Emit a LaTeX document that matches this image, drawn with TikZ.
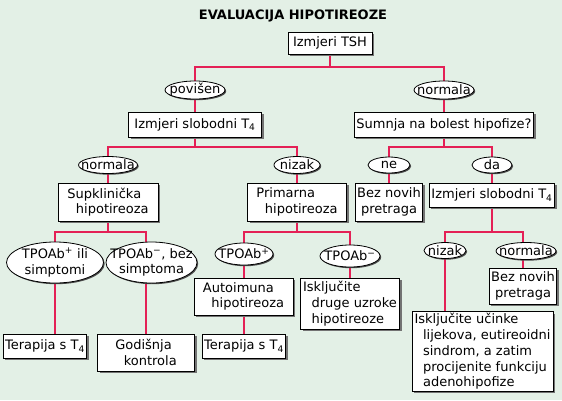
\documentclass[tikz,border=0pt]{standalone}
\usepackage{fontspec}
\setmainfont{DejaVu Sans}
\usetikzlibrary{shapes.geometric,shadows,positioning}
\definecolor{bgGreen}{RGB}{227,240,230}
\definecolor{linkRed}{RGB}{228,32,86}
\pgfdeclarelayer{bg}
\pgfdeclarelayer{wires}
\pgfsetlayers{bg,wires,main}
\newcommand{\ind}{\hspace*{8.5pt}}
\tikzset{
  box/.style={draw, fill=white, line width=0.8pt, inner sep=2pt, outer sep=0pt, align=left,
    drop shadow={shadow xshift=2pt, shadow yshift=-2pt, fill=black!55, opacity=1}},
  lbl/.style={ellipse, draw, fill=white, line width=0.8pt, inner xsep=-40pt, inner ysep=-20pt, outer sep=0pt, align=center,
    drop shadow={shadow xshift=1.2pt, shadow yshift=-1.2pt, fill=black!70, opacity=1}},
  link/.style={draw=linkRed, line width=2pt},
}

\begin{document}
\begin{tikzpicture}[x=1pt,y=-1pt, every node/.style={font=\fontsize{13}{15.7}\selectfont}]
\useasboundingbox (0,0) rectangle (562,400);
\begin{pgfonlayer}{bg}
\fill[bgGreen] (0,0) rectangle (562,400);
\end{pgfonlayer}

\node[font=\bfseries\fontsize{13}{15}\selectfont] (title) at (293,16) {EVALUACIJA HIPOTIREOZE};

% first level
\node[box, minimum width=84pt, minimum height=22pt] (tsh) at (330,43) {Izmjeri TSH};
\node[lbl, minimum width=60pt, minimum height=18pt] (povisen) at (195,90) {povišen};
\node[lbl, minimum width=60pt, minimum height=18pt] (normalaA) at (444,90) {normala};
\node[box, minimum width=133pt, minimum height=25pt] (ftA) at (195,124.5) {Izmjeri slobodni T\textsubscript{4}};
\node[box, minimum width=176pt, minimum height=25pt] (sumnja) at (444,124.5) {Sumnja na bolest hipofize?};

% second level
\node[lbl, minimum width=59pt, minimum height=17pt] (normalaB) at (108,165) {normala};
\node[lbl, minimum width=46pt, minimum height=17pt] (nizakA) at (297,165) {nizak};
\node[lbl, minimum width=42pt, minimum height=16pt] (ne) at (389,165) {ne};
\node[lbl, minimum width=40pt, minimum height=16pt] (da) at (492,165) {da};
\node[box, minimum width=100pt, minimum height=38pt] (supkl) at (108,202) {Supklinička\\\ind hipotireoza};
\node[box, minimum width=99pt, minimum height=38pt] (primarna) at (297,202) {Primarna\\\ind hipotireoza};
\node[box, align=center, minimum width=63pt, minimum height=38pt] (bezA) at (389,202) {Bez novih\\pretraga};
\node[box, minimum width=125pt, minimum height=24pt] (ftB) at (492,195) {Izmjeri slobodni T\textsubscript{4}};

% third level
\node[lbl, minimum width=97pt, minimum height=41pt] (tpoIli) at (55,262.5) {TPOAb\textsuperscript{+} ili\\simptomi};
\node[lbl, minimum width=91pt, minimum height=41pt] (tpoBez) at (151.5,262.5) {TPOAb\textsuperscript{−}, bez\\simptoma};
\node[lbl, minimum width=58pt, minimum height=22pt] (tpoPlus) at (244,254) {TPOAb\textsuperscript{+}};
\node[lbl, minimum width=60pt, minimum height=22pt] (tpoMinus) at (350,256) {TPOAb\textsuperscript{−}};
\node[lbl, minimum width=42pt, minimum height=16pt] (nizakB) at (445,250.5) {nizak};
\node[lbl, minimum width=60pt, minimum height=17pt] (normalaC) at (526,251) {normala};
\node[box, minimum width=99pt, minimum height=37pt] (autoimuna) at (243.5,296.5) {Autoimuna\\\ind hipotireoza};
\node[box, minimum width=99pt, minimum height=51pt] (iskDruge) at (350,303.5) {Isključite\\\ind druge uzroke\\\ind hipotireoze};
\node[box, align=center, minimum width=63pt, minimum height=36pt] (bezB) at (523,286) {Bez novih\\pretraga};

% bottom
\node[box, minimum width=78pt, minimum height=24pt] (terA) at (45,346) {Terapija s T\textsubscript{4}};
\node[box, minimum width=97pt, minimum height=37pt] (godisnja) at (146,352.5) {Godišnja\\\ind kontrola};
\node[box, minimum width=80pt, minimum height=24pt] (terB) at (244,346) {Terapija s T\textsubscript{4}};
\node[box, minimum width=141pt, minimum height=79pt] (iskUcinke) at (482.5,351.5) {Isključite učinke\\\ind lijekova, eutireoidni\\\ind sindrom, a zatim\\\ind procijenite funkciju\\\ind adenohipofize};

\begin{pgfonlayer}{wires}
\draw[link] (tsh.south) -- ++(0,13) -| (ftA.north);
\draw[link] (tsh.south) -- ++(0,13) -| (sumnja.north);
\draw[link] (ftA.south) -- ++(0,10) -| (supkl.north);
\draw[link] (ftA.south) -- ++(0,10) -| (primarna.north);
\draw[link] (sumnja.south) -- ++(0,10) -| (bezA.north);
\draw[link] (sumnja.south) -- ++(0,10) -| (ftB.north);
\draw[link] (supkl.south) -- ++(0,11) -| (tpoIli.north);
\draw[link] (tpoIli) -- (tpoIli |- terA.north);
\draw[link] (supkl.south) -- ++(0,11) -| (godisnja.north);
\draw[link] (primarna.south) -- ++(0,11) -| (terB.north);
\draw[link] (primarna.south) -- ++(0,11) -| (iskDruge.north);
\draw[link] (ftB.south) -- ++(0,25) -| (nizakB.north);
\draw[link] (nizakB) -- (nizakB |- iskUcinke.north);
\draw[link] (ftB.south) -- ++(0,25) -| (bezB.north);
\end{pgfonlayer}
\end{tikzpicture}
\end{document}
